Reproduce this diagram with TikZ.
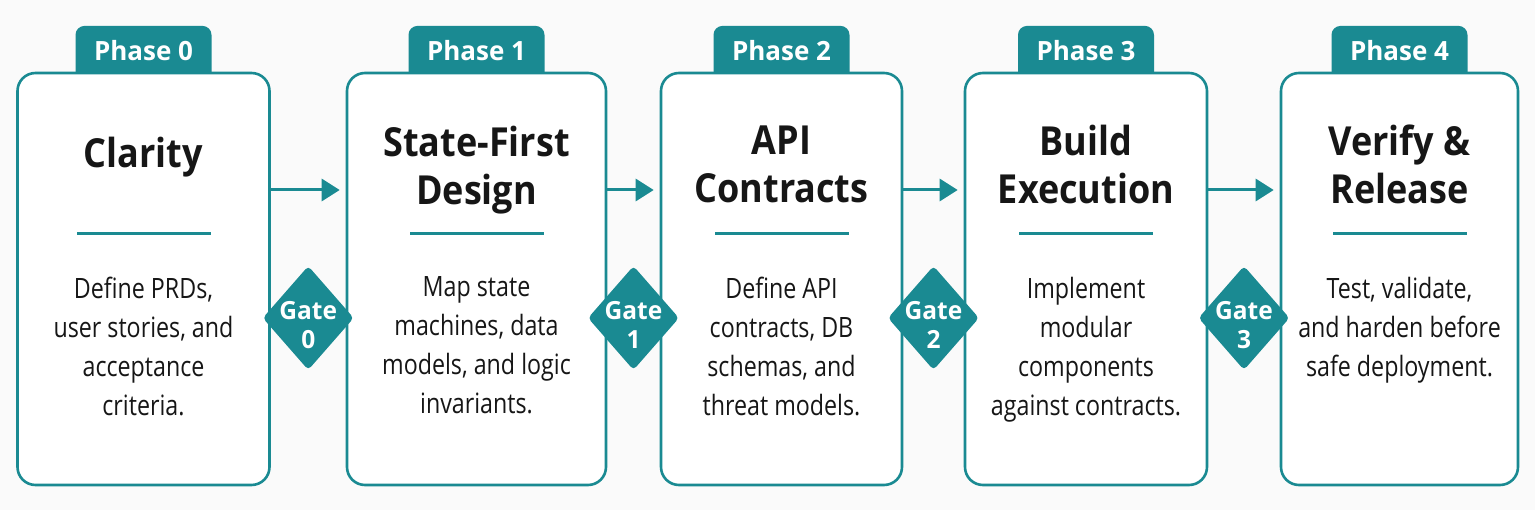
\documentclass[tikz,border=0pt]{standalone}
\usepackage{fontspec}
\setmainfont{Open Sans}[FakeStretch=0.83]
\newfontfamily\headfont{Open Sans}[FakeStretch=0.9]
\newfontfamily\badgefont{Open Sans}[FakeStretch=0.98]
\usepackage{tikz}
\usetikzlibrary{arrows.meta, positioning, shapes.geometric, backgrounds, calc}

\definecolor{phaseteal}{RGB}{26,138,146}
\definecolor{inkblack}{RGB}{22,22,22}
\definecolor{pagebg}{RGB}{250,250,250}

\begin{document}
\begin{tikzpicture}[x=1pt, y=1pt, node distance=310pt,
    box/.style={rectangle, draw=phaseteal, line width=2.6pt, fill=white, rounded corners=18pt, minimum height=412pt},
    tab/.style={rectangle, fill=phaseteal, rounded corners=9pt, minimum width=136pt, inner ysep=0pt, text height=35pt, text depth=23pt, anchor=north, text=white, font=\badgefont\fontsize{26.5}{30}\selectfont\bfseries},
    title/.style={anchor=north, align=center, text=inkblack, inner sep=0pt, font=\headfont\fontsize{40}{48}\selectfont\bfseries},
    rulebar/.style={rectangle, fill=phaseteal, minimum width=134pt, minimum height=3.5pt, inner sep=0pt},
    body/.style={anchor=north, align=center, text=inkblack, inner sep=0pt, font=\fontsize{28}{39}\selectfont},
    gate/.style={diamond, fill=phaseteal, rounded corners=4pt, minimum width=91pt, minimum height=104pt, inner sep=0pt},
    gatetext/.style={align=center, text=white, inner sep=0pt, yshift=-7pt, font=\badgefont\fontsize{25}{29}\selectfont\bfseries},
    flow/.style={draw=phaseteal, line width=3pt, -{Triangle[length=18pt, width=22pt]}, shorten >=6pt}]
    \useasboundingbox (0,0) rectangle (1535,-510);

    % phase boxes
    \node (clarity) [box, minimum width=252pt] at (143.5,-279) {};
    \node (design) [box, minimum width=259pt, right of=clarity, xshift=23pt] {};
    \node (contracts) [box, minimum width=241pt, right of=design, xshift=-5pt] {};
    \node (build) [box, minimum width=242pt, right of=contracts, xshift=-5.5pt] {};
    \node (release) [box, minimum width=237pt, right of=build, xshift=3.5pt] {};

    % tabs sit behind the boxes
    \begin{scope}[on background layer]
        \fill [pagebg] (0,0) rectangle (1535,-510);
        \node (tab0) [tab] at ([yshift=46pt]clarity.north) {Phase 0};
        \node (tab1) [tab] at ([yshift=46pt]design.north) {Phase 1};
        \node (tab2) [tab] at ([yshift=46pt]contracts.north) {Phase 2};
        \node (tab3) [tab] at ([yshift=46pt]build.north) {Phase 3};
        \node (tab4) [tab] at ([yshift=46pt]release.north) {Phase 4};
    \end{scope}

    \node (clarityTitle) [title] at ([yshift=-65pt]clarity.north) {Clarity};
    \node (designTitle) [title] at ([yshift=-54pt]design.north) {State-First\\Design};
    \node (contractsTitle) [title] at ([yshift=-54pt]contracts.north) {API\\Contracts};
    \node (buildTitle) [title] at ([yshift=-53pt]build.north) {Build\\Execution};
    \node (releaseTitle) [title] at ([yshift=-53pt]release.north) {Verify \&\\Release};

    \node (clarityRule) [rulebar] at ([yshift=-162pt]clarity.north) {};
    \node (designRule) [rulebar] at ([yshift=-162pt]design.north) {};
    \node (contractsRule) [rulebar] at ([yshift=-162pt]contracts.north) {};
    \node (buildRule) [rulebar] at ([yshift=-162pt]build.north) {};
    \node (releaseRule) [rulebar] at ([yshift=-162pt]release.north) {};

    \node (clarityText) [body] at ([yshift=-205pt]clarity.north) {Define PRDs,\\user stories, and\\acceptance\\criteria.};
    \node (designText) [body] at ([yshift=-205pt]design.north) {Map state\\machines, data\\models, and logic\\invariants.};
    \node (contractsText) [body] at ([yshift=-205pt]contracts.north) {Define API\\contracts, DB\\schemas, and\\threat models.};
    \node (buildText) [body] at ([yshift=-205pt]build.north) {Implement\\modular\\components\\against contracts.};
    \node (releaseText) [body] at ([yshift=-205pt]release.north) {Test, validate,\\and harden before\\safe deployment.};

    % arrows between phases
    \draw [flow] ([yshift=89pt]clarity.east) -- ([yshift=89pt]design.west);
    \draw [flow] ([yshift=89pt]design.east) -- ([yshift=89pt]contracts.west);
    \draw [flow] ([yshift=89pt]contracts.east) -- ([yshift=89pt]build.west);
    \draw [flow] ([yshift=89pt]build.east) -- ([yshift=89pt]release.west);

    % gates
    \node (gate0) [gate, label={[gatetext]center:{Gate\\0}}] at ($(clarity.east)!.5!(design.west) + (0,-39)$) {};
    \node (gate1) [gate, label={[gatetext]center:{Gate\\1}}] at ($(design.east)!.5!(contracts.west) + (0,-39)$) {};
    \node (gate2) [gate, label={[gatetext]center:{Gate\\2}}] at ($(contracts.east)!.5!(build.west) + (0,-39)$) {};
    \node (gate3) [gate, label={[gatetext]center:{Gate\\3}}] at ($(build.east)!.5!(release.west) + (0,-39)$) {};
\end{tikzpicture}
\end{document}
